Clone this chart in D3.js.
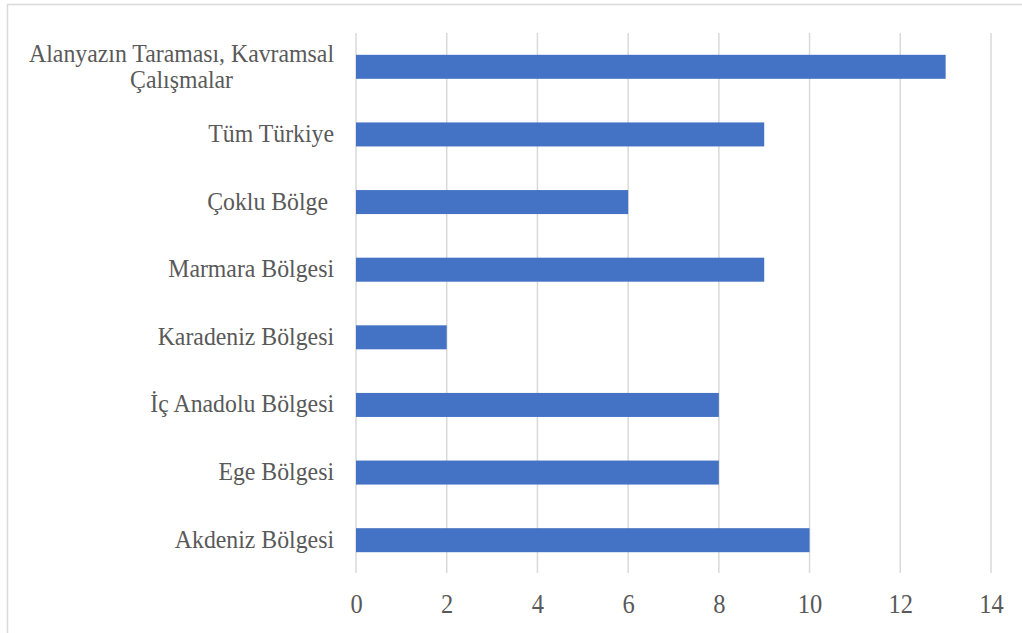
<!DOCTYPE html>
<html><head><meta charset="utf-8">
<script src="https://cdn.jsdelivr.net/npm/d3@7"></script>
<style>
html,body{margin:0;padding:0;background:#fff;overflow:hidden}
svg{display:block}
text{white-space:pre}
</style></head>
<body><svg id="c" width="1022" height="633"></svg>
<script>
const categories = ["Alanyazın Taraması, Kavramsal\nÇalışmalar","Tüm Türkiye","Çoklu Bölge ","Marmara Bölgesi","Karadeniz Bölgesi","İç Anadolu Bölgesi","Ege Bölgesi","Akdeniz Bölgesi"];
const values = [13,9,6,9,2,8,8,10];
const xTicks = [0,2,4,6,8,10,12,14];

const svg = d3.select("#c");
const font = "'Liberation Serif','Times New Roman',serif";
const textColor = "#595959";
const sy = 1.09;

// chart border
svg.append("rect").attr("x",7.5).attr("y",4.5).attr("width",1040).attr("height",660)
  .attr("fill","none").attr("stroke","#d9d9d9").attr("stroke-width",1.5);

const x = d3.scaleLinear().domain([0,14]).range([356,991]);
const y = d3.scaleBand().domain(categories).range([33,574]).paddingInner(0.645).paddingOuter(0.3225);

// gridlines
svg.append("g").selectAll("line").data(xTicks).join("line")
  .attr("x1",d=>x(d)).attr("x2",d=>x(d)).attr("y1",33).attr("y2",573)
  .attr("stroke","#d9d9d9").attr("stroke-width",1.5);

// bars
svg.append("g").selectAll("rect").data(values).join("rect")
  .attr("x",x(0)).attr("y",(d,i)=>y(categories[i]))
  .attr("width",d=>x(d)-x(0)).attr("height",y.bandwidth())
  .attr("fill","#4472C4");

// x axis
const xAxis = svg.append("g").attr("transform","translate(0,573)")
  .call(d3.axisBottom(x).tickValues(xTicks).tickSize(0).tickPadding(0));
xAxis.select(".domain").remove();
xAxis.selectAll("text").attr("font-family",font).attr("font-size",24.5).attr("fill",textColor)
  .attr("dy",null).attr("y",40/sy).attr("transform",`scale(1,${sy})`);

// y axis labels
const yAxis = svg.append("g").attr("transform","translate(356,0)")
  .call(d3.axisLeft(y).tickSize(0).tickPadding(22));
yAxis.select(".domain").remove();
yAxis.selectAll("text").each(function(d){
  const t = d3.select(this);
  const lines = d.split("\n");
  t.text(null).attr("font-family",font).attr("font-size",23.8).attr("fill",textColor)
   .attr("dy",null).attr("transform",`scale(1,${sy})`);
  if(lines.length===1){
    t.attr("y",7.5/sy).text(lines[0]);
  } else {
    t.attr("y",0);
    const tmp = t.append("tspan").text(lines[0]);
    const w0 = tmp.node().getComputedTextLength(); tmp.remove();
    t.attr("text-anchor","middle");
    lines.forEach((ln,i)=>{
      t.append("tspan").attr("x",-22 - w0/2).attr("y",(-5 + i*26)/sy).text(ln);
    });
  }
});
</script></body></html>
